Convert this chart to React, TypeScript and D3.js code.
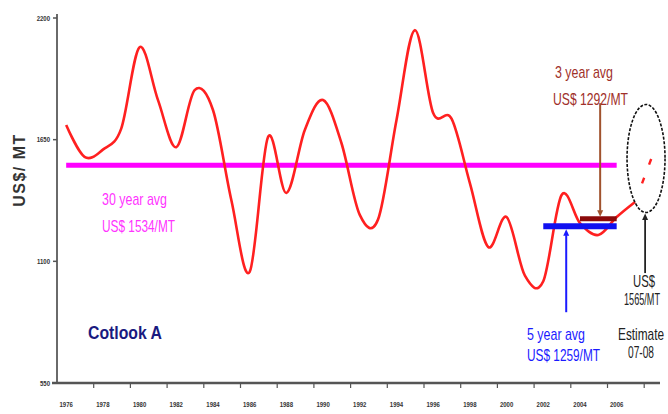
import React from "react";
import * as d3 from "d3";

// Cotlook A index, US$ per metric tonne, one value per year
const years = [
  1976, 1977, 1978, 1979, 1980, 1981, 1982, 1983, 1984, 1985, 1986, 1987, 1988, 1989, 1990, 1991,
  1992, 1993, 1994, 1995, 1996, 1997, 1998, 1999, 2000, 2001, 2002, 2003, 2004, 2005, 2006, 2007,
];
const prices = [
  1716, 1572, 1605, 1700, 2068, 1830, 1616, 1874, 1784, 1377, 1052, 1662, 1409, 1693, 1829, 1635,
  1310, 1290, 1738, 2145, 1770, 1745, 1454, 1165, 1300, 1035, 1010, 1400, 1273, 1219, 1300, 1368,
];
// 2007-08 estimate
const estimateYear = 2008;
const estimateValue = 1565;

const avg30 = 1534;
const avg5 = 1259;
const avg3 = 1292;

const yTicks = [550, 1100, 1650, 2200];
const xLabelYears = [1976, 1978, 1980, 1982, 1984, 1986, 1988, 1990, 1992, 1994, 1996, 1998, 2000, 2002, 2004, 2006];

const W = 668;
const H = 414;
const SX = 0.7; // horizontal squeeze for the narrow annotation lettering

type NarrowProps = {
  x: number;
  y: number;
  width: number;
  fill: string;
  anchor?: "start" | "middle" | "end";
  size?: number;
  children: React.ReactNode;
};

// Condensed annotation text: drawn in a horizontally squeezed group
function Narrow({ x, y, width, fill, anchor = "start", size = 16, children }: NarrowProps) {
  return (
    <g transform={`translate(${x},${y}) scale(${SX},1)`}>
      <text
        x={0}
        y={0}
        fontSize={size}
        fill={fill}
        textAnchor={anchor}
        textLength={width / SX}
        lengthAdjust="spacingAndGlyphs"
      >
        {children}
      </text>
    </g>
  );
}

export default function App() {
  const x = d3.scaleLinear().domain([1975.5, 2007.5]).range([57, 644.2]);
  const y = d3.scaleLinear().domain([550, 2200]).range([383, 18]);

  const pts: [number, number][] = years.map((yr, i) => [x(yr), y(prices[i])]);
  const line = d3.line().curve(d3.curveCardinal.tension(0));
  const pricePath = line(pts) || "";

  const boundaries = d3.range(1977.5, 2008, 2);

  const font = "'Liberation Sans', Arial, sans-serif";

  const arrowHead = (cx: number, tipY: number, dir: 1 | -1, color: string, size = 5) => (
    <path
      d={`M${cx},${tipY} L${cx - size * 0.6},${tipY + dir * size * 1.3} L${cx + size * 0.6},${tipY + dir * size * 1.3} Z`}
      fill={color}
    />
  );

  // arrow anchors
  const blueX = x(2003.25);
  const blueBottom = y(870);
  const brownX = x(2005.1);
  const brownTop = y(1815);
  const blackX = x(2007.55);
  const blackBottom = y(1047);
  const ellCx = x(2007.6);
  const ellCy = y(estimateValue);
  const ellRy = 54;

  return (
    <svg
      width={W}
      height={H}
      style={{ position: "absolute", left: 0, top: 0, background: "#fff" }}
      fontFamily={font}
    >
      {/* axes */}
      <line x1={57} x2={57} y1={14} y2={384} stroke="#6a6a6a" strokeWidth={2} />
      <line x1={52} x2={660} y1={383} y2={383} stroke="#555" strokeWidth={2.5} />
      {yTicks.map((t) => (
        <g key={t}>
          <line x1={53} x2={57} y1={y(t)} y2={y(t)} stroke="#555" strokeWidth={1.5} />
          <g transform={`translate(50,${y(t)}) scale(0.75,1)`}>
            <text x={0} y={0} dy="0.35em" textAnchor="end" fontSize={8} fontWeight="bold" fill="#333">
              {t}
            </text>
          </g>
        </g>
      ))}
      {boundaries.map((b) => (
        <line key={b} x1={x(b)} x2={x(b)} y1={383} y2={388} stroke="#555" strokeWidth={1.2} />
      ))}
      {xLabelYears.map((yr) => (
        <g key={yr} transform={`translate(${x(yr)},407) scale(0.75,1)`}>
          <text x={0} y={0} textAnchor="middle" fontSize={8} fontWeight="bold" fill="#333">
            {yr}
          </text>
        </g>
      ))}

      {/* y-axis title */}
      <text
        transform={`translate(25,170) rotate(-90)`}
        textAnchor="middle"
        fontSize={16}
        fontWeight="bold"
        fill="#333"
        letterSpacing={1.5}
      >
        US$/ MT
      </text>

      {/* 30 year average */}
      <line x1={x(1976)} x2={x(2006)} y1={y(avg30)} y2={y(avg30)} stroke="#ff00ff" strokeWidth={5} />
      <Narrow x={102} y={205} width={65} fill="#ff33ff">30 year avg</Narrow>
      <Narrow x={102} y={232} width={73} fill="#ff33ff">US$ 1534/MT</Narrow>

      {/* price curve */}
      <path d={pricePath} fill="none" stroke="#ff2020" strokeWidth={2.6} strokeLinejoin="round" />
      <line
        x1={x(2007)}
        y1={y(prices[prices.length - 1])}
        x2={x(estimateYear) - 2}
        y2={y(estimateValue)}
        stroke="#ff2020"
        strokeWidth={2.4}
        strokeDasharray="0 20 6 14 6 20"
      />

      {/* 5 year average */}
      <line x1={x(2002)} x2={x(2006)} y1={y(avg5)} y2={y(avg5)} stroke="#1010f0" strokeWidth={6} />
      <line x1={blueX} x2={blueX} y1={blueBottom} y2={y(avg5) + 9} stroke="#1a1aff" strokeWidth={2} />
      {arrowHead(blueX, y(avg5) + 3, 1, "#1a1aff")}
      <Narrow x={527} y={340} width={58} fill="#1a1aff">5 year avg</Narrow>
      <Narrow x={527} y={361} width={73} fill="#1a1aff">US$ 1259/MT</Narrow>

      {/* 3 year average */}
      <line x1={x(2004)} x2={x(2006)} y1={y(avg3)} y2={y(avg3)} stroke="#8b0a0a" strokeWidth={5} />
      <line x1={brownX} x2={brownX} y1={brownTop} y2={y(avg3) - 8} stroke="#a0522d" strokeWidth={2} />
      {arrowHead(brownX, y(avg3) - 2, -1, "#a0522d")}
      <Narrow x={555} y={78} width={58} fill="#a0302a">3 year avg</Narrow>
      <Narrow x={553} y={105} width={75} fill="#a0302a">US$ 1292/MT</Narrow>

      {/* 2007-08 estimate */}
      <ellipse
        cx={ellCx}
        cy={ellCy}
        rx={19}
        ry={ellRy}
        fill="none"
        stroke="#111"
        strokeWidth={1.6}
        strokeDasharray="3 1.5"
      />
      <line x1={blackX} x2={blackX} y1={blackBottom} y2={ellCy + ellRy + 7} stroke="#222" strokeWidth={1.8} />
      {arrowHead(blackX, ellCy + ellRy + 1, 1, "#222")}
      <Narrow x={644} y={287} width={22} fill="#222" anchor="middle">US$</Narrow>
      <Narrow x={642} y={305} width={36} fill="#222" anchor="middle">1565/MT</Narrow>
      <Narrow x={641} y={340} width={46} fill="#222" anchor="middle">Estimate</Narrow>
      <Narrow x={641} y={358} width={26} fill="#222" anchor="middle">07-08</Narrow>

      {/* series name */}
      <text
        x={88}
        y={339}
        fontSize={19}
        fontWeight="bold"
        fill="#1a1a80"
        textLength={74}
        lengthAdjust="spacingAndGlyphs"
      >
        Cotlook A
      </text>
    </svg>
  );
}
